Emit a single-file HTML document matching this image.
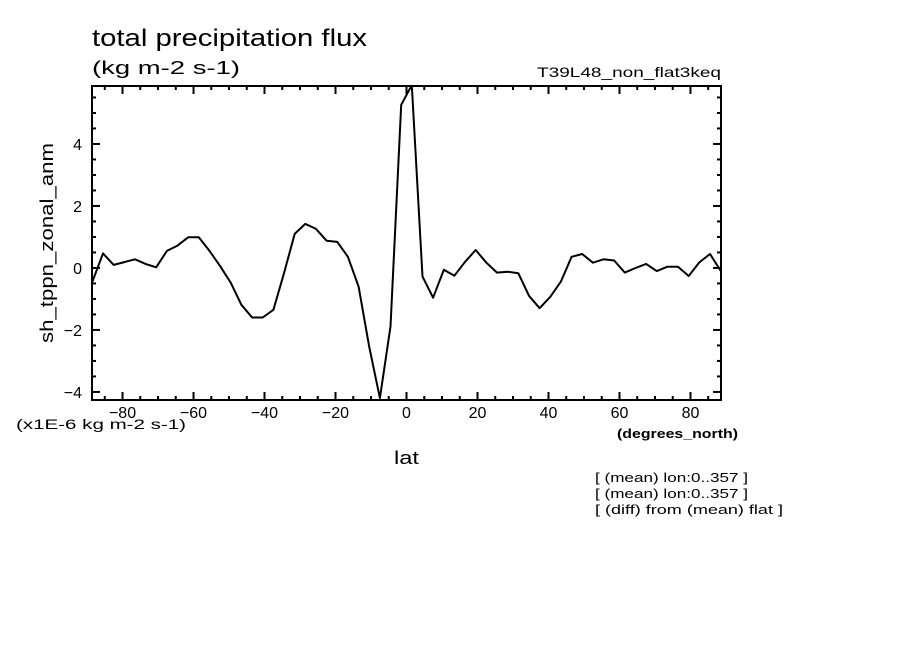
<!DOCTYPE html>
<html><head><meta charset="utf-8"><style>
body{margin:0;background:#fff;}
svg{display:block;font-family:"Liberation Sans",sans-serif;}
</style></head><body>
<svg id="chart" width="904" height="654" viewBox="0 0 904 654">
<rect width="904" height="654" fill="#fff"/>
<text x="92" y="46" font-size="24" textLength="275" lengthAdjust="spacingAndGlyphs">total precipitation flux</text>
<text x="92" y="74" font-size="18" textLength="148" lengthAdjust="spacingAndGlyphs">(kg m-2 s-1)</text>
<text x="537" y="77" font-size="14" textLength="184" lengthAdjust="spacingAndGlyphs">T39L48_non_flat3keq</text>
<text transform="translate(53,243) rotate(-90)" font-size="18" text-anchor="middle" textLength="200" lengthAdjust="spacingAndGlyphs">sh_tppn_zonal_anm</text>
<text x="16" y="429" font-size="14" textLength="170" lengthAdjust="spacingAndGlyphs">(x1E-6 kg m-2 s-1)</text>
<text x="617" y="438" font-size="13" font-weight="bold" textLength="121" lengthAdjust="spacingAndGlyphs">(degrees_north)</text>
<text x="394" y="464" font-size="18" textLength="25" lengthAdjust="spacingAndGlyphs">lat</text>
<text x="595" y="482" font-size="13" textLength="153" lengthAdjust="spacingAndGlyphs">[ (mean) lon:0..357 ]</text>
<text x="595" y="498" font-size="13" textLength="153" lengthAdjust="spacingAndGlyphs">[ (mean) lon:0..357 ]</text>
<text x="595" y="514" font-size="13" textLength="188" lengthAdjust="spacingAndGlyphs">[ (diff) from (mean) flat ]</text>
<defs><clipPath id="clip"><rect x="92" y="86" width="629" height="314"/></clipPath></defs>
<g id="axes"></g>
<path id="line" fill="none" stroke="#000" stroke-width="2" stroke-linejoin="round" clip-path="url(#clip)"/>
<rect x="92" y="86" width="629" height="314" fill="none" stroke="#000" stroke-width="2"/>
</svg>
<script>
const values = [-0.44,0.47,0.10,0.19,0.28,0.13,0.02,0.55,0.72,0.99,0.99,0.55,0.06,-0.48,-1.19,-1.60,-1.60,-1.35,-0.17,1.10,1.42,1.26,0.88,0.84,0.36,-0.60,-2.54,-4.20,-1.89,5.26,5.90,-0.28,-0.96,-0.06,-0.25,0.20,0.58,0.17,-0.15,-0.12,-0.17,-0.90,-1.30,-0.93,-0.44,0.36,0.45,0.17,0.28,0.24,-0.15,0.00,0.13,-0.10,0.04,0.04,-0.26,0.18,0.45,-0.09];
const lats = values.map((v,k)=>-88.5+3*k);
const xTicks = [-80,-60,-40,-20,0,20,40,60,80];
const yTicks = [-4,-2,0,2,4];
const X0=92,X1=721,Y0=86,Y1=400,XMIN=-88.6,XMAX=88.6,YMIN=-4.26,YMAX=5.87;
const sx=v=>X0+(v-XMIN)/(XMAX-XMIN)*(X1-X0);
const sy=v=>Y1-(v-YMIN)/(YMAX-YMIN)*(Y1-Y0);
const NS="http://www.w3.org/2000/svg";
const g=document.getElementById('axes');
function ln(x1,y1,x2,y2,name){const l=document.createElementNS(NS,'line');
l.setAttribute('x1',x1);l.setAttribute('y1',y1);l.setAttribute('x2',x2);l.setAttribute('y2',y2);
l.setAttribute('stroke','#000');l.setAttribute('stroke-width','2');


g.appendChild(l);}
function tx(x,y,s,anchor,name){const t=document.createElementNS(NS,'text');
t.setAttribute('x',x);t.setAttribute('y',y);t.setAttribute('font-size','16');t.setAttribute('text-anchor',anchor);t.textContent=s;


g.appendChild(t);}
for(let v=-85;v<=85;v+=5){const x=sx(v);const maj=v%20===0;const L=maj?8:4;
ln(x,Y1,x,Y1-L,'x-tick');ln(x,Y0,x,Y0+L,'x-tick');}
for(let v=-4;v<=5.5;v+=0.5){const y=sy(v);const maj=Math.abs(v%2)<1e-9;const L=maj?8:4;
ln(X0,y,X0+L,y,'y-tick');ln(X1,y,X1-L,y,'y-tick');}
xTicks.forEach(v=>tx(sx(v),418,v<0?'\u2212'+(-v):String(v),'middle','x-tick-label'));
yTicks.forEach(v=>tx(X0-10,sy(v)+6,v<0?'\u2212'+(-v):String(v),'end','y-tick-label'));
document.getElementById('line').setAttribute('d',values.map((v,i)=>(i?'L':'M')+sx(lats[i]).toFixed(1)+' '+sy(v).toFixed(1)).join(' '));
</script>
</body></html>
